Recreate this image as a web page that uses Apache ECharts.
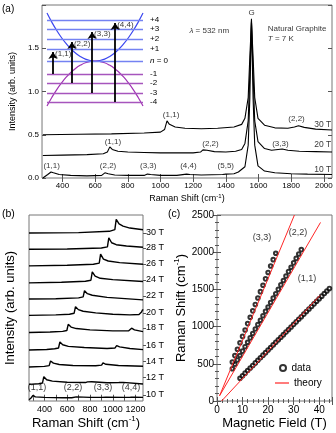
<!DOCTYPE html>
<html>
<head>
<meta charset="utf-8">
<script src="https://cdn.jsdelivr.net/npm/echarts@6/dist/echarts.min.js"></script>
<style>
html,body{margin:0;padding:0;background:#fff;}
#chart{width:336px;height:433px;}
</style>
</head>
<body>
<div id="chart"></div>
<script>
var font = 'Liberation Sans, Arial, sans-serif';

// ---------- (a) spectra at 10, 20, 30 T ----------
var a10 = [[280,0.0],[290,0.02],[310,0.04],[330,0.07],[345,0.06],[380,0.04],[450,0.03],[550,0.025],[640,0.03],[660,0.06],[680,0.05],[720,0.035],[800,0.03],[900,0.03],[920,0.045],[940,0.04],[1000,0.03],[1100,0.03],[1160,0.045],[1180,0.04],[1250,0.035],[1380,0.04],[1400,0.045],[1450,0.05],[1477,0.07],[1517,0.13],[1537,0.38],[1547,0.92],[1557,1.84],[1567,0.92],[1577,0.38],[1597,0.14],[1637,0.08],[1700,0.06],[1800,0.05],[1900,0.045],[2050,0.04]];
var a20 = [[280,0.26],[400,0.265],[550,0.27],[650,0.28],[675,0.3],[690,0.36],[705,0.33],[740,0.31],[800,0.30],[900,0.295],[1000,0.29],[1100,0.29],[1200,0.29],[1245,0.30],[1260,0.325],[1285,0.32],[1330,0.305],[1400,0.30],[1460,0.31],[1497,0.33],[1517,0.4],[1537,0.66],[1547,1.2],[1557,1.82],[1567,1.2],[1577,0.66],[1597,0.42],[1637,0.34],[1680,0.32],[1720,0.33],[1745,0.335],[1780,0.32],[1850,0.31],[1950,0.305],[2050,0.30]];
var a30 = [[280,0.50],[500,0.505],[700,0.51],[900,0.52],[1000,0.53],[1025,0.56],[1040,0.66],[1055,0.62],[1090,0.59],[1150,0.575],[1250,0.57],[1350,0.575],[1450,0.59],[1497,0.62],[1517,0.69],[1537,0.93],[1547,1.4],[1557,1.80],[1567,1.4],[1577,0.93],[1597,0.69],[1637,0.61],[1700,0.58],[1780,0.575],[1820,0.59],[1845,0.605],[1880,0.585],[1950,0.565],[2050,0.555]];
var ticksA = [400,600,800,1000,1200,1400,1600,1800,2000];
var peakLabelsA = [[1065,0.73,'(1,1)'],[1833,0.68,'(2,2)'],[709,0.42,'(1,1)'],[1306,0.40,'(2,2)'],[1734,0.40,'(3,3)'],
  [334,0.14,'(1,1)'],[679,0.14,'(2,2)'],[925,0.14,'(3,3)'],[1171,0.14,'(4,4)'],[1400,0.14,'(5,5)'],[1558,1.91,'G']];
var fieldLabelsA = [[2045,0.62,'30 T'],[2045,0.38,'20 T'],[2045,0.10,'10 T']];
var infoLabelsA = [[1177,1.70,'{i|λ} = 532 nm'],[1657,1.72,'Natural Graphite'],[1657,1.61,'{i|T} = 7 K']];

// ---------- (a) inset: Landau levels ----------
var levelE = [4.1,3.2,2.2,1.2,0,-1.3,-2.2,-3.2,-4.1];
var levelNames = ['+4','+3','+2','+1','{i|n} = 0','-1','-2','-3','-4'];
var paraX = [-1,-0.9,-0.8,-0.7,-0.6,-0.5,-0.4,-0.3,-0.2,-0.1,0,0.1,0.2,0.3,0.4,0.5,0.6,0.7,0.8,0.9,1];
var bandUp = [4.8,3.89,3.07,2.35,1.73,1.2,0.77,0.43,0.19,0.05,0,0.05,0.19,0.43,0.77,1.2,1.73,2.35,3.07,3.89,4.8];
var bandDown = [-4.5,-3.65,-2.88,-2.21,-1.62,-1.13,-0.72,-0.41,-0.18,-0.05,0,-0.05,-0.18,-0.41,-0.72,-1.13,-1.62,-2.21,-2.88,-3.65,-4.5];
var arrowX = [-0.875,-0.48,-0.06,0.42];
var arrowLow = [-1.3,-2.2,-3.2,-4.1];
var arrowHigh = [1.2,2.2,3.2,4.1];
var arrowNames = ['(1,1)','(2,2)','(3,3)','(4,4)'];

// ---------- (b) spectra 10..30 T ----------
var b10 = [[265,-0.12],[285,0.0],[300,0.15],[320,0.05],[400,0.02],[560,0.0],[640,0.0],[655,0.1],[680,0.05],[800,0.02],[905,0.02],[915,0.08],[940,0.04],[1100,0.02],[1155,0.03],[1165,0.08],[1190,0.04],[1265,0.02]];
var b12 = [[265,0.82],[350,0.86],[383,0.9],[395,1.29],[420,1.1],[470,1.02],[600,0.95],[760,0.93],[778,0.97],[790,1.05],[815,0.98],[950,0.92],[1053,0.93],[1065,0.99],[1090,0.94],[1265,0.84]];
var b14 = [[265,1.88],[400,1.92],[442,1.97],[454,2.25],[479,2.12],[530,2.04],[650,1.98],[850,1.96],[902,2.0],[914,2.13],[940,2.05],[1050,1.98],[1265,1.93]];
var b16 = [[265,2.93],[420,2.96],[490,3.0],[524,3.05],[536,3.42],[561,3.25],[610,3.15],[750,3.08],[950,3.02],[1020,3.05],[1034,3.2],[1060,3.12],[1150,3.02],[1265,2.95]];
var b18 = [[265,4.0],[450,4.03],[560,4.07],[597,4.12],[609,4.5],[634,4.33],[680,4.24],[800,4.16],[1000,4.1],[1140,4.1],[1155,4.22],[1165,4.26],[1190,4.16],[1265,4.05]];
var b20 = [[265,5.05],[500,5.08],[620,5.12],[661,5.18],[673,5.58],[698,5.4],[740,5.3],[850,5.2],[1000,5.12],[1150,5.08],[1230,5.1],[1252,5.25],[1262,5.4],[1265,5.35]];
var b22 = [[265,6.05],[500,6.07],[700,6.12],[740,6.18],[752,6.56],[777,6.38],[820,6.28],[950,6.15],[1265,6.0]];
var b24 = [[265,7.04],[550,7.08],[760,7.14],[808,7.2],[820,7.72],[845,7.45],[890,7.32],[1000,7.24],[1265,7.12]];
var b26 = [[265,8.08],[600,8.12],[830,8.18],[881,8.25],[893,8.8],[918,8.5],[960,8.38],[1060,8.28],[1265,8.18]];
var b28 = [[265,9.1],[600,9.12],[900,9.18],[953,9.25],[965,9.8],[990,9.5],[1030,9.38],[1120,9.3],[1265,9.22]];
var b30 = [[265,10.1],[700,10.12],[970,10.2],[1018,10.3],[1030,10.93],[1055,10.65],[1090,10.52],[1150,10.4],[1265,10.3]];
var specB = [b10,b12,b14,b16,b18,b20,b22,b24,b26,b28,b30];
var fieldNamesB = ['10 T','12 T','14 T','16 T','18 T','20 T','22 T','24 T','26 T','28 T','30 T'];
var fieldPosB = [0.17,1.27,2.25,3.23,4.28,5.2,6.24,7.22,8.2,9.18,10.1];
var ticksB = [300,400,500,600,700,800,900,1000,1100,1200];
var tickLabelsB = [400,600,800,1000,1200];
var peakLabelsB = [[335,0.6,'(1,1)'],[651,0.6,'(2,2)'],[914,0.6,'(3,3)'],[1160,0.6,'(4,4)']];

// ---------- (c) peak position vs field ----------
var field11 = [9,10,11,12,13,14,15,16,17,18,19,20,21,22,23,24,25,26,27,28,29,30,31,32,33,34,35,36,37,38,39,40,41,42,43,44];
var shift11 = [305,340,374,409,443,478,512,547,581,616,650,685,719,754,788,823,857,892,926,961,995,1030,1064,1099,1133,1168,1202,1237,1271,1306,1340,1375,1409,1444,1478,1513];
var field22 = [6,7,8,9,10,11,12,13,14,15,16,17,18,19,20,21,22,23,24,25,26,27,28,29,30,31,32,33];
var shift22 = [434,493,552,612,671,730,790,849,908,967,1027,1086,1145,1205,1264,1323,1383,1442,1501,1561,1620,1679,1739,1798,1857,1917,1976,2035];
var field33 = [6,7,8,9,10,11,12,13,14,15,16,17,18,19,20,21,22,23];
var shift33 = [524,610,696,782,868,954,1040,1126,1212,1298,1384,1470,1556,1642,1728,1814,1900,1986];
var theory11 = [[1.8,0],[40.3,1420]];
var theory22 = [[1.0,70],[40.5,2400]];
var theory33 = [[1.0,70],[30.3,2500]];
var peakLabelsC = [[17.6,2204,'(3,3)'],[31.7,2271,'(2,2)'],[35.2,1640,'(1,1)']];

function zip(xs, ys) {
    var out = [];
    for (var i = 0; i < xs.length; i++) out.push([xs[i], ys[i]]);
    return out;
}
function plain(v) { return String(v); }

var tickLine = {color: '#555', width: 1};
var italicRich = {i: {fontStyle: 'italic', fontFamily: font, fontSize: 8, color: '#000'}};

function spectrum(data, xi, yi, w) {
    return {type: 'line', data: data, xAxisIndex: xi, yAxisIndex: yi, symbol: 'none', silent: true,
        lineStyle: {color: '#000', width: w}};
}
function textSeries(items, xi, yi, size, align) {
    return {type: 'scatter', xAxisIndex: xi, yAxisIndex: yi, symbolSize: 0, silent: true, z: 5,
        data: items.map(function (t) { return {value: [t[0], t[1]], name: t[2]}; }),
        label: {show: true, position: 'inside', align: align, verticalAlign: 'middle',
            fontSize: size, color: '#000', fontFamily: font,
            formatter: function (p) { return p.name; },
            rich: {i: {fontStyle: 'italic', fontSize: size, fontFamily: font, color: '#000'}}}};
}
function nameRich(size, sup) {
    return {fontFamily: font, color: '#000',
        rich: {t: {fontSize: size, fontFamily: font, color: '#000', lineHeight: size + 3},
               s: {fontSize: sup, fontFamily: font, color: '#000', lineHeight: sup, verticalAlign: 'top'}}};
}
var ramanName = '{t|Raman Shift (cm}{s|-1}{t|)}';

var series = [];
// (a)
series.push(spectrum(a10, 0, 0, 1.1), spectrum(a20, 0, 0, 1.1), spectrum(a30, 0, 0, 1.1));
series.push(textSeries(peakLabelsA, 0, 0, 8, 'center'));
series.push(textSeries(fieldLabelsA, 0, 0, 8.5, 'right'));
series.push(textSeries(infoLabelsA, 0, 0, 8, 'left'));
// inset
series.push({type: 'line', xAxisIndex: 2, yAxisIndex: 2, symbol: 'none', silent: true, smooth: true,
    data: zip(paraX, bandUp), lineStyle: {color: '#3a46f0', width: 1.2},
    markLine: {silent: true, symbol: 'none', animation: false,
        label: {show: true, position: 'end', distance: 7, fontSize: 8, color: '#000', fontFamily: font,
            formatter: function (p) { return levelNames[levelE.indexOf(p.value)]; }, rich: italicRich},
        data: levelE.map(function (e, i) {
            return {yAxis: e, lineStyle: {color: i <= 4 ? '#7482f2' : '#a655bd', width: 1.3, type: 'solid'}};
        })}});
series.push({type: 'line', xAxisIndex: 2, yAxisIndex: 2, symbol: 'none', silent: true, smooth: true,
    data: zip(paraX, bandDown), lineStyle: {color: '#a032b4', width: 1.2},
    markLine: {silent: true, symbol: ['none', 'arrow'], symbolSize: 7, animation: false,
        label: {show: false},
        lineStyle: {color: '#000', width: 1.8, type: 'solid'},
        data: arrowX.map(function (x, i) {
            return [{coord: [x, arrowLow[i]]}, {coord: [x, arrowHigh[i] - 0.3]}];
        })}});
series.push({type: 'scatter', xAxisIndex: 2, yAxisIndex: 2, symbolSize: 0, silent: true, z: 5,
    data: arrowX.map(function (x, i) { return {value: [x, arrowHigh[i]], name: arrowNames[i]}; }),
    label: {show: true, position: 'right', distance: 2, offset: [0, 5], fontSize: 8, color: '#000', fontFamily: font,
        formatter: function (p) { return p.name; }}});
// (b)
specB.forEach(function (s) { series.push(spectrum(s, 3, 3, 1.4)); });
series.push(textSeries(peakLabelsB, 3, 3, 9, 'center'));
// (c)
[zip(field11, shift11), zip(field22, shift22), zip(field33, shift33)].forEach(function (d) {
    series.push({type: 'scatter', name: 'data', xAxisIndex: 5, yAxisIndex: 5, data: d, symbol: 'emptyCircle',
        symbolSize: 3.6, silent: true, itemStyle: {color: '#000', borderWidth: 0.8}});
});
[theory11, theory22, theory33].forEach(function (d) {
    series.push({type: 'line', name: 'theory', xAxisIndex: 5, yAxisIndex: 5, data: d, symbol: 'none', silent: true,
        z: 4, lineStyle: {color: '#ff2626', width: 1}, itemStyle: {color: '#ff2626'}});
});
series.push(textSeries(peakLabelsC, 5, 5, 9, 'center'));

var chart = echarts.init(document.getElementById('chart'), null, {renderer: 'canvas'});
chart.setOption({
    animation: false,
    backgroundColor: '#fff',
    textStyle: {fontFamily: font},
    graphic: [
        {type: 'text', left: 2, top: 4, style: {text: '(a)', fontSize: 10, fontFamily: font, fill: '#000'}},
        {type: 'text', left: 2, top: 209, style: {text: '(b)', fontSize: 10.5, fontFamily: font, fill: '#000'}},
        {type: 'text', left: 168, top: 209, style: {text: '(c)', fontSize: 10.5, fontFamily: font, fill: '#000'}}
    ],
    legend: [
        {data: [{name: 'data', icon: 'emptyCircle', itemStyle: {borderWidth: 1}}], left: 274, top: 358,
            itemWidth: 7, itemHeight: 6, selectedMode: false,
            textStyle: {fontSize: 10, color: '#000', fontFamily: font}},
        {data: [{name: 'theory', icon: 'rect'}], left: 270, top: 373, itemWidth: 14, itemHeight: 1.2,
            selectedMode: false, textStyle: {fontSize: 10, color: '#000', fontFamily: font}}
    ],
    grid: [
        {left: 29, top: 5, right: 4, bottom: 255, show: true, borderColor: '#777', borderWidth: 1},
        {left: 47, top: 11, width: 96, height: 100},
        {left: 29, top: 215, width: 114, height: 186, show: true, borderColor: '#777', borderWidth: 1},
        {left: 217, top: 215, width: 115, height: 186, show: true, borderColor: '#777', borderWidth: 1}
    ],
    xAxis: [
        {gridIndex: 0, type: 'value', min: 275, max: 2050, axisLine: {show: false}, splitLine: {show: false},
            axisTick: {inside: true, length: 4, customValues: ticksA, lineStyle: tickLine},
            axisLabel: {customValues: ticksA, fontSize: 8, color: '#000', margin: 4, formatter: plain},
            name: ramanName, nameLocation: 'middle', nameGap: 15, nameTextStyle: nameRich(9, 6)},
        {gridIndex: 0, type: 'value', position: 'top', min: 275, max: 2050, axisLine: {show: false},
            splitLine: {show: false}, axisLabel: {show: false},
            axisTick: {inside: true, length: 4, customValues: ticksA, lineStyle: tickLine}},
        {gridIndex: 1, type: 'value', min: -1, max: 1, show: false},
        {gridIndex: 2, type: 'value', min: 265, max: 1265, axisLine: {show: false}, splitLine: {show: false},
            axisTick: {inside: true, length: 3, customValues: ticksB, lineStyle: tickLine},
            axisLabel: {customValues: tickLabelsB, fontSize: 9, color: '#000', margin: 4, formatter: plain},
            name: ramanName, nameLocation: 'middle', nameGap: 14, nameTextStyle: nameRich(13, 8)},
        {gridIndex: 2, type: 'value', position: 'top', min: 265, max: 1265, axisLine: {show: false},
            splitLine: {show: false}, axisLabel: {show: false},
            axisTick: {inside: true, length: 3, customValues: ticksB, lineStyle: tickLine}},
        {gridIndex: 3, type: 'value', min: 0, max: 45, interval: 10, axisLine: {show: false}, splitLine: {show: false},
            axisTick: {inside: true, length: 4, lineStyle: tickLine},
            minorTick: {show: true, splitNumber: 5, length: 2, lineStyle: tickLine},
            axisLabel: {fontSize: 10, color: '#000', margin: 4, showMaxLabel: false, formatter: plain},
            name: 'Magnetic Field (T)', nameLocation: 'middle', nameGap: 16,
            nameTextStyle: {fontSize: 13, color: '#000', fontFamily: font}},
        {gridIndex: 3, type: 'value', position: 'top', min: 0, max: 45, interval: 10, axisLine: {show: false},
            splitLine: {show: false}, axisLabel: {show: false},
            axisTick: {inside: true, length: 4, lineStyle: tickLine},
            minorTick: {show: true, splitNumber: 5, length: 2, lineStyle: tickLine}}
    ],
    yAxis: [
        {gridIndex: 0, type: 'value', min: 0, max: 2, interval: 0.5, axisLine: {show: false}, splitLine: {show: false},
            axisTick: {inside: true, length: 4, lineStyle: tickLine},
            axisLabel: {fontSize: 8, color: '#000', margin: 3,
                formatter: function (v) { return v >= 2 ? '' : v.toFixed(1); }},
            name: 'Intensity (arb. units)', nameLocation: 'middle', nameGap: 16,
            nameTextStyle: {fontSize: 9, color: '#000', fontFamily: font}},
        {gridIndex: 0, type: 'value', position: 'right', min: 0, max: 2, interval: 0.5, axisLine: {show: false},
            splitLine: {show: false}, axisLabel: {show: false},
            axisTick: {inside: true, length: 4, lineStyle: tickLine}},
        {gridIndex: 1, type: 'value', min: -5, max: 5, show: false},
        {gridIndex: 2, type: 'value', min: -0.2, max: 11.2, axisLine: {show: false}, splitLine: {show: false},
            axisTick: {show: false}, axisLabel: {show: false},
            name: 'Intensity (arb. units)', nameLocation: 'middle', nameGap: 12,
            nameTextStyle: {fontSize: 13, color: '#000', fontFamily: font}},
        {gridIndex: 2, type: 'value', position: 'right', min: -0.2, max: 11.2, axisLine: {show: false},
            splitLine: {show: false},
            axisTick: {show: true, length: 3, customValues: fieldPosB, lineStyle: tickLine},
            axisLabel: {customValues: fieldPosB, fontSize: 9, color: '#000', margin: 3,
                formatter: function (v) {
                    var best = 0;
                    for (var i = 0; i < fieldPosB.length; i++) {
                        if (Math.abs(fieldPosB[i] - v) < Math.abs(fieldPosB[best] - v)) best = i;
                    }
                    return fieldNamesB[best];
                }}},
        {gridIndex: 3, type: 'value', min: 0, max: 2500, interval: 500, axisLine: {show: false}, splitLine: {show: false},
            axisTick: {inside: true, length: 4, lineStyle: tickLine},
            minorTick: {show: true, splitNumber: 5, length: 2, lineStyle: tickLine},
            axisLabel: {fontSize: 10, color: '#000', margin: 3, formatter: plain},
            name: ramanName, nameLocation: 'middle', nameGap: 28, nameTextStyle: nameRich(13, 8)},
        {gridIndex: 3, type: 'value', position: 'right', min: 0, max: 2500, interval: 500, axisLine: {show: false},
            splitLine: {show: false}, axisLabel: {show: false},
            axisTick: {inside: true, length: 4, lineStyle: tickLine},
            minorTick: {show: true, splitNumber: 5, length: 2, lineStyle: tickLine}}
    ],
    series: series
});
</script>
</body>
</html>
